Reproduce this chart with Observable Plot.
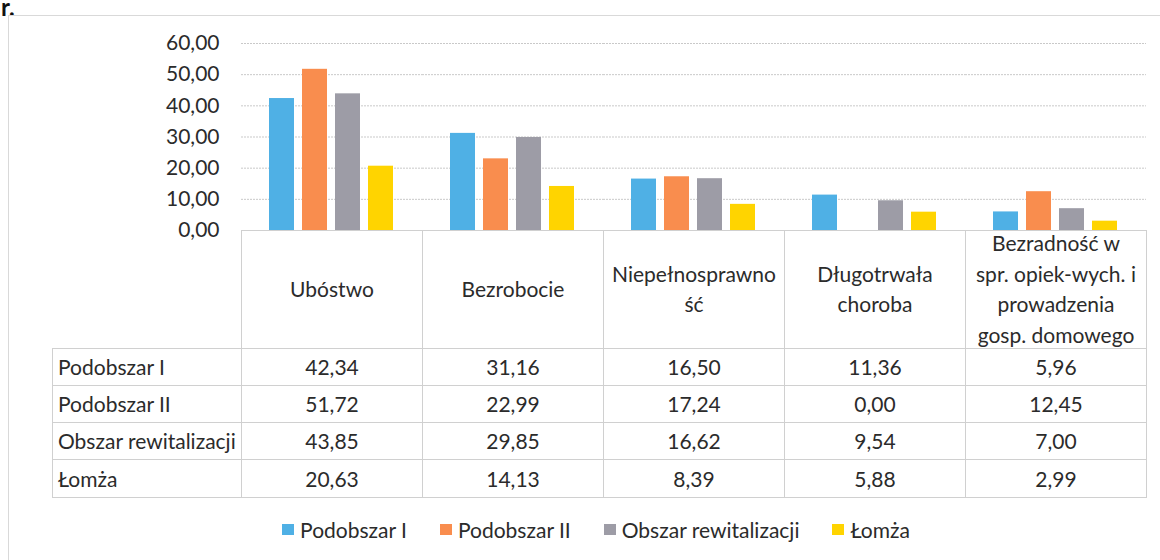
<!DOCTYPE html>
<html>
<head>
<meta charset="utf-8">
<script src="https://cdn.jsdelivr.net/npm/d3@7"></script>
<script src="https://cdn.jsdelivr.net/npm/@observablehq/plot@0.6"></script>
<style>
  html, body { margin: 0; padding: 0; background: #fff; overflow: hidden; width: 1160px; height: 560px; }
  body { position: relative; font-family: Lato, "Open Sans", sans-serif; color: #2b2b2b; }
  #mark { position: absolute; left: 1px; top: -7px; font-weight: bold; font-size: 24px; line-height: 28px; font-family: Lato, sans-serif; color: #111; }
  #frame { position: absolute; left: 8px; top: 15px; width: 1170px; height: 600px; border: 1px solid #d9d9d9; box-sizing: border-box; }
  #chart { position: absolute; left: 0; top: 0; }
  table { position: absolute; left: 52px; top: 230px; border-collapse: collapse; font-size: 21px; table-layout: fixed; }
  td { border: 1px solid #d0d0d0; text-align: center; padding: 0; line-height: 28px; }
  td.lab { text-align: left; padding-left: 5px; white-space: nowrap; }
  tr.data td { height: 36.3px; }
  tr.head td { height: 116.5px; vertical-align: middle; }
  tr.head td div { line-height: 30.5px; margin: -4px 0; }
  td.corner { border-top: none; border-left: none; }
  #legend { position: absolute; top: 517px; left: 0; width: 1160px; display: flex; justify-content: center; gap: 33px; font-size: 21px; padding-left: 32px; box-sizing: border-box; }
  #legend span.item { display: flex; align-items: center; }
  #legend span.sw { display: inline-block; width: 12px; height: 11px; margin-right: 6px; }
</style>
</head>
<body>
<div id="mark">r.</div>
<div id="frame"></div>
<div id="chart"></div>
<table id="tbl"></table>
<div id="legend"></div>
<script>
const categories = ["Ubóstwo", "Bezrobocie", "Niepełnosprawność", "Długotrwała choroba", "Bezradność w spr. opiek-wych. i prowadzenia gosp. domowego"];
const headerLines = [["Ubóstwo"], ["Bezrobocie"], ["Niepełnosprawno", "ść"], ["Długotrwała", "choroba"], ["Bezradność w", "spr. opiek-wych. i", "prowadzenia", "gosp. domowego"]];
const series = ["Podobszar I", "Podobszar II", "Obszar rewitalizacji", "Łomża"];
const podobszarI = [42.34, 31.16, 16.50, 11.36, 5.96];
const podobszarII = [51.72, 22.99, 17.24, 0.00, 12.45];
const obszarRewitalizacji = [43.85, 29.85, 16.62, 9.54, 7.00];
const lomza = [20.63, 14.13, 8.39, 5.88, 2.99];
const yTicks = [0, 10, 20, 30, 40, 50, 60];
const colors = ["#4fb0e5", "#f98d4e", "#9d9ca6", "#ffd400"];

const seriesValues = [podobszarI, podobszarII, obszarRewitalizacji, lomza];
const fmt = v => v.toFixed(2).replace(".", ",");
const data = [];
series.forEach((s, si) => categories.forEach((c, ci) => data.push({category: c, series: s, value: seriesValues[si][ci]})));

const chart = Plot.plot({
  width: 1160,
  height: 252,
  marginLeft: 241,
  marginRight: 14,
  marginTop: 43,
  marginBottom: 22,
  style: {fontFamily: "Lato, sans-serif", fontSize: "21px", color: "#2b2b2b", background: "transparent", overflow: "visible"},
  fx: {domain: categories, padding: 0, axis: null},
  x: {domain: series, paddingInner: 0.24, paddingOuter: 0.8, axis: null},
  y: {domain: [0, 60], axis: null},
  color: {domain: series, range: colors},
  marks: [
    Plot.gridY(yTicks, {stroke: "#c9c9c9", strokeOpacity: 1, strokeWidth: 1, strokeDasharray: "2,1"}),
    Plot.axisY(yTicks, {tickSize: 0, tickPadding: 22, tickFormat: fmt, fontSize: 21, label: null, facetAnchor: "left"}),
    Plot.barY(data, {fx: "category", x: "series", y: "value", fill: "series"})
  ]
});
document.getElementById("chart").appendChild(chart);

// data table
const tbl = document.getElementById("tbl");
let html = '<colgroup><col style="width:189px">' + categories.map(() => '<col style="width:181px">').join("") + '</colgroup>';
html += '<tr class="head"><td class="corner"></td>' + headerLines.map(l => '<td><div>' + l.join("<br>") + '</div></td>').join("") + '</tr>';
series.forEach((s, si) => {
  html += '<tr class="data"><td class="lab">' + s + '</td>' + seriesValues[si].map(v => '<td>' + fmt(v) + '</td>').join("") + '</tr>';
});
tbl.innerHTML = html;

// legend
document.getElementById("legend").innerHTML = series.map((s, i) =>
  '<span class="item"><span class="sw" style="background:' + colors[i] + '"></span>' + s + '</span>').join("");
</script>
</body>
</html>
